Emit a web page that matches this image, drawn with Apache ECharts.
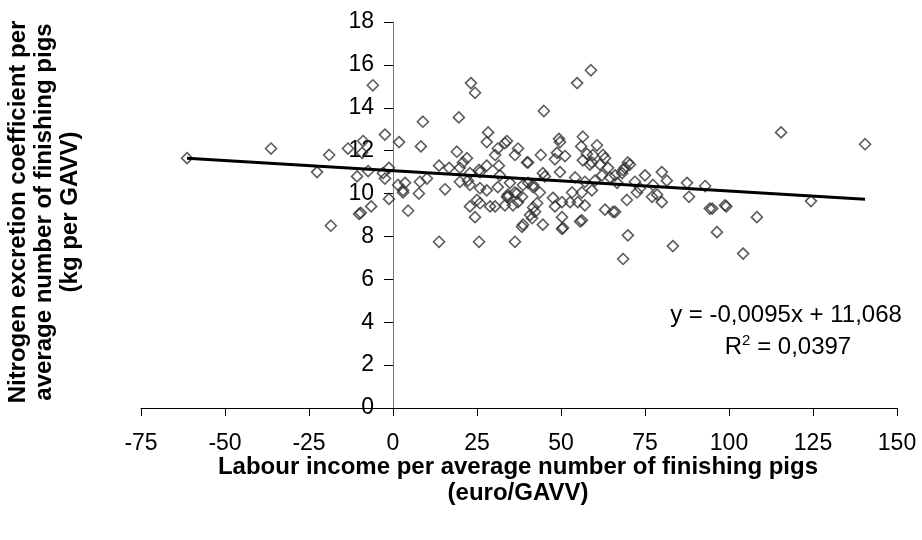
<!DOCTYPE html>
<html>
<head>
<meta charset="utf-8">
<script src="https://cdn.jsdelivr.net/npm/echarts@6/dist/echarts.min.js"></script>
<style>html,body{margin:0;padding:0;background:#fff}#c{width:922px;height:540px}</style>
</head>
<body>
<div id="c"></div>
<script>
// Scatter points: [labour income (euro/GAVV), N excretion coefficient (kg per GAVV)]
const points = [
[-61.3,11.65],[-36.3,12.1],[-22.6,11.0],[-19,11.8],[-18.5,8.5],[-13.4,12.1],[-8.9,12.45],[-9.2,11.9],
[-10.7,10.8],[-7.4,11.05],[-6.5,9.4],[-10.1,9.05],[-9.6,9.1],[-6,15.05],[-2.4,12.75],[1.8,12.4],
[-2.4,10.7],[-3,10.95],[-1.2,11.2],[-1.2,9.75],[1.5,10.4],[3,10.15],[3.6,10.5],[4.5,9.2],[8.9,13.35],[8.3,12.2],
[23.2,15.15],[24.4,14.7],[19.6,13.55],[44.9,13.85],[28.3,12.85],[27.9,12.4],[33.9,12.45],[19,11.95],
[22,11.65],[20.8,11.45],[30.4,11.8],[31.2,12.1],[37.2,12.1],[36.3,11.8],[39.9,11.45],[44,11.8],
[13.7,11.3],[16.7,11.2],[19.9,11.2],[25.6,11.1],[27.9,11.3],[31.5,11.3],[31.8,10.85],[44.6,10.95],
[8,10.55],[10.1,10.7],[15.5,10.2],[7.7,10.0],[19.9,10.55],[22.9,10.4],[25.9,10.25],[27.9,10.15],
[31.2,10.3],[34.2,9.95],[36.9,10.0],[38.7,10.4],[41.7,10.3],[43.7,10.05],[22.9,10.95],[25.9,11.0],
[22.3,10.6],[3,10.05],[22.9,9.4],[25,9.7],[24.4,8.9],[28.9,9.4],[13.7,7.75],[25.6,7.75],[36.3,7.75],
[25.9,9.55],[30.4,9.4],[33.3,9.45],[35.7,9.45],[37.2,9.6],[34.2,9.85],[42.9,9.55],[42.3,9.15],
[41.4,8.85],[38.7,8.55],[44.6,8.55],[40.8,9.0],[38.4,8.45],[33.3,12.35],[40.2,11.45],[48.8,11.9],
[51.2,11.75],[49.7,12.4],[56,12.2],[60.7,12.25],[57.7,11.85],[59.5,11.8],[63.1,11.65],[59.2,11.45],
[61.6,11.35],[64,11.2],[45.2,10.8],[49.7,11.0],[54.2,10.75],[57.1,10.55],[60.1,10.6],[62.2,10.85],
[64.6,10.75],[34.8,10.5],[36.3,10.05],[40.2,10.5],[38.4,9.85],[33.9,9.85],[41.7,10.4],[41.7,9.35],
[47.6,9.8],[50.3,9.6],[52.7,9.6],[55,9.6],[57.1,9.45],[50.3,8.9],[50.6,8.4],[56.2,8.75],[53.3,10.05],
[56.2,10.05],[59.2,10.15],[48.2,9.4],[63.1,9.25],[65.5,9.15],[69.9,11.45],[70.5,11.35],[68.5,11.1],
[66.1,10.85],[75,10.85],[80,11.0],[81.5,10.6],[87.5,10.5],[92.9,10.35],[72.6,10.05],[77.1,9.85],
[80,9.6],[88.1,9.85],[69.6,9.7],[66.1,9.15],[94.3,9.3],[98.8,9.45],[69.9,8.05],[96.4,8.2],[68.2,10.95],
[73.5,10.25],[78.6,9.95],[66.7,10.5],[58.9,15.75],[54.8,15.15],[49.4,12.55],[56.5,12.65],[48.2,11.6],
[62.5,11.8],[56.5,11.55],[58.6,11.35],[69,11.2],[72,10.55],[77.4,10.4],[68.5,6.95],[83.3,7.55],
[50.3,8.35],[55.7,8.7],[115.5,12.85],[140.5,12.3],[95,9.3],[99.2,9.4],[108.3,8.9],[124.4,9.65],[104.2,7.2]
];
// Linear trend line endpoints (y = -0,0095x + 11,068 over the data range)
const trendX = [-61.3, 140.5];
const trendY = [11.65, 9.73];
const xTicks = [-75, 150, 25];   // min, max, interval
const yTicks = [0, 18, 2];
const xTitle = 'Labour income per average number of finishing pigs\n(euro/GAVV)';
const yTitle = 'Nitrogen excretion coefficient per\naverage number of finishing pigs\n(kg per GAVV)';
const eqText = 'y = -0,0095x + 11,068';

const chart = echarts.init(document.getElementById('c'), null, {renderer: 'canvas'});
const font = 'Liberation Sans, Arial, sans-serif';
const gridLeft = 141, gridRight = 25;
const plotW = 922 - gridLeft - gridRight;
// y axis crosses the x axis at x = 0
const yAxisOffset = -plotW * (0 - xTicks[0]) / (xTicks[1] - xTicks[0]);
chart.setOption({
  animation: false,
  backgroundColor: '#fff',
  grid: {left: gridLeft, right: gridRight, top: 22, bottom: 132, containLabel: false},
  xAxis: {
    type: 'value', min: xTicks[0], max: xTicks[1], interval: xTicks[2],
    splitLine: {show: false},
    axisLine: {onZero: false, lineStyle: {color: '#000', width: 1}},
    axisTick: {show: true, length: 8, lineStyle: {color: '#000'}},
    axisLabel: {margin: 24, fontSize: 23, color: '#000', fontFamily: font}
  },
  yAxis: {
    type: 'value', min: yTicks[0], max: yTicks[1], interval: yTicks[2],
    offset: yAxisOffset,
    splitLine: {show: false},
    axisLine: {show: true, onZero: false, lineStyle: {color: '#777', width: 1}},
    axisTick: {show: true, length: 9, lineStyle: {color: '#000'}},
    axisLabel: {margin: 19, fontSize: 23, color: '#000', fontFamily: font}
  },
  series: [
    {
      type: 'scatter', data: points, symbol: 'diamond', symbolSize: 11,
      itemStyle: {color: 'transparent', borderColor: '#333', borderWidth: 1.6},
      z: 2
    },
    {
      type: 'line', data: trendX.map((x, i) => [x, trendY[i]]), symbol: 'none',
      lineStyle: {color: '#000', width: 3}, z: 3
    }
  ],
  graphic: [
    {type: 'text', x: 518, y: 454, z: 10,
     style: {text: xTitle, font: 'bold 24px ' + font, fill: '#000', textAlign: 'center', textVerticalAlign: 'top', lineHeight: 26}},
    {type: 'text', x: 44, y: 212, rotation: Math.PI / 2, z: 10,
     style: {text: yTitle, font: 'bold 24px ' + font, fill: '#000', textAlign: 'center', textVerticalAlign: 'middle', lineHeight: 26}},
    {type: 'text', x: 786, y: 315, z: 10,
     style: {text: eqText, font: '24px ' + font, fill: '#000', textAlign: 'center', textVerticalAlign: 'middle'}},
    {type: 'text', x: 788, y: 347, z: 10,
     style: {text: '{a|R}{s|2}{a| = 0,0397}', textAlign: 'center', textVerticalAlign: 'middle',
       rich: {a: {font: '24px ' + font, fill: '#000', lineHeight: 28},
              s: {font: '15px ' + font, fill: '#000', verticalAlign: 'top', lineHeight: 28}}}}
  ]
});
</script>
</body>
</html>
